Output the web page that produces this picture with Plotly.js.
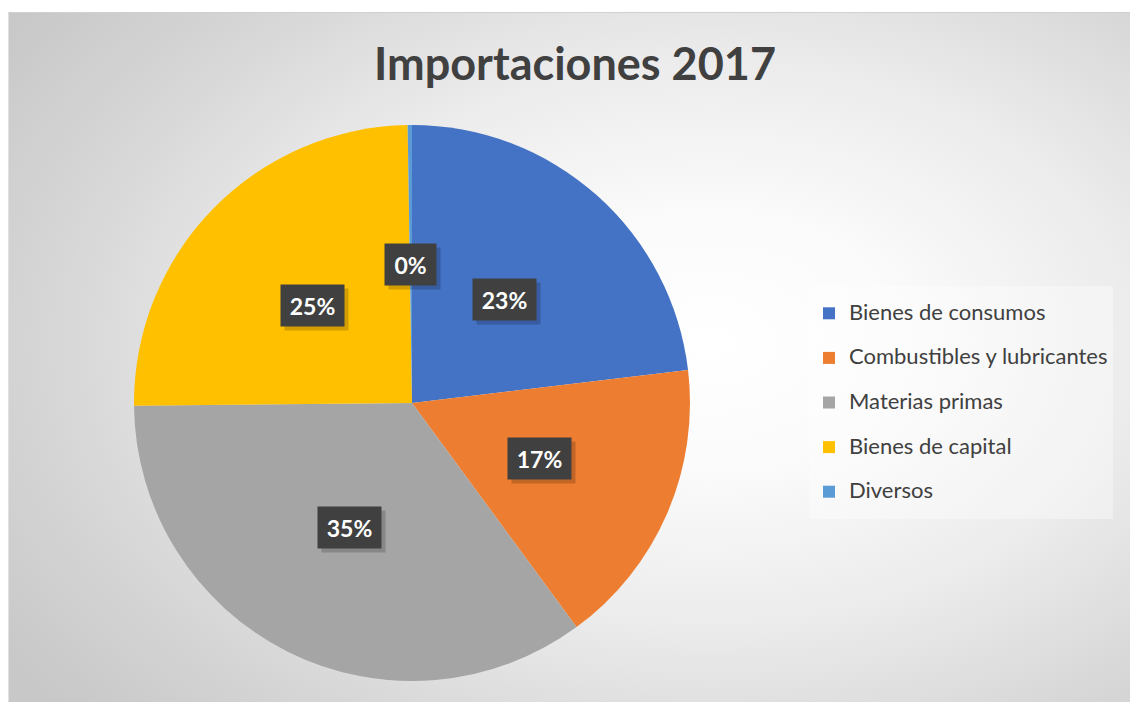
<!DOCTYPE html>
<html>
<head>
<meta charset="utf-8">
<script src="https://cdn.plot.ly/plotly-3.0.1.min.js"></script>
<style>
  html, body { margin: 0; padding: 0; background: #ffffff; width: 1130px; height: 702px; overflow: hidden; }
  #bg { position: absolute; left: 8px; top: 12px; width: 1130px; height: 700px;
        border-top: 1px solid #d0d0d0; border-left: 1px solid #e0e0e0;
        background: radial-gradient(ellipse 75% 80% at 62% 47%, #ffffff 0%, #fbfbfb 22%, #ececec 50%, #d6d6d6 78%, #c8c8c8 100%); }
  #chart { position: absolute; left: 0; top: 0; width: 1130px; height: 702px; }
</style>
</head>
<body>
<div id="bg"></div>
<div id="chart"></div>
<script>
// ---- data ----
const chartTitle = "Importaciones 2017";
const categories = ["Bienes de consumos", "Combustibles y lubricantes", "Materias primas", "Bienes de capital", "Diversos"];
const values = [23.1, 16.8, 34.9, 24.9, 0.25];
const colors = ["#4472C4", "#ED7D31", "#A5A5A5", "#FFC000", "#5B9BD5"];

// ---- layout geometry ----
const W = 1130, H = 702;
const pieLeft = 134, pieRight = 690, pieTop = 125, pieBottom = 681;
const domX = [pieLeft / W, pieRight / W];
const domY = [(H - pieBottom) / H, (H - pieTop) / H];
const cx = (pieLeft + pieRight) / 2, cy = (pieTop + pieBottom) / 2;
const R = (pieRight - pieLeft) / 2;
const labelR = 0.5 * R;

const total = values.reduce((a, b) => a + b, 0);
const annotations = [];
let cum = 0;
values.forEach((v, i) => {
  const mid = (cum + v / 2) / total * 2 * Math.PI;
  cum += v;
  const px = cx + labelR * Math.sin(mid);
  const py = cy - labelR * Math.cos(mid);
  const txt = Math.round(v / total * 100) + "%";
  const w = 13 + 12 * txt.length;
  const common = {
    xref: "paper", yref: "paper", x: px / W, y: 1 - py / H,
    xanchor: "center", yanchor: "middle", showarrow: false,
    borderpad: 7, width: w, height: 27,
    font: { family: "Lato, 'Open Sans', sans-serif", size: 23, color: "#ffffff", weight: 700 }
  };
  // soft shadow box
  annotations.push(Object.assign({}, common, {
    text: " ", bgcolor: "rgba(0,0,0,0.18)", xshift: 4, yshift: -4
  }));
  annotations.push(Object.assign({}, common, { text: "<b>" + txt + "</b>", bgcolor: "#404040" }));
});

const trace = {
  type: "pie",
  labels: categories.map(c => '<span style="font-size:22px;baseline-shift:6px">' + c + '</span>'),
  values: values,
  marker: { colors: colors, line: { width: 0 } },
  sort: false,
  direction: "clockwise",
  rotation: 0,
  textinfo: "none",
  hoverinfo: "label+percent",
  domain: { x: domX, y: domY }
};

const layout = {
  width: W, height: H,
  margin: { l: 0, r: 0, t: 0, b: 0 },
  paper_bgcolor: "rgba(0,0,0,0)",
  plot_bgcolor: "rgba(0,0,0,0)",
  title: {
    text: "<b>" + chartTitle + "</b>",
    x: 575 / W, xanchor: "center",
    y: 1 - 64 / H, yanchor: "middle", yref: "paper",
    font: { family: "Lato, 'Open Sans', sans-serif", size: 45, color: "#404040" }
  },
  showlegend: true,
  legend: {
    x: 809 / W, xanchor: "left",
    y: 1 - 286 / H, yanchor: "top",
    bgcolor: "rgba(255,255,255,0.35)",
    borderwidth: 0,
    font: { family: "Lato, 'Open Sans', sans-serif", size: 32, color: "#404040" },
    traceorder: "normal"
  },
  annotations: annotations
};

Plotly.newPlot("chart", [trace], layout, { displayModeBar: false, staticPlot: true });
</script>
</body>
</html>
